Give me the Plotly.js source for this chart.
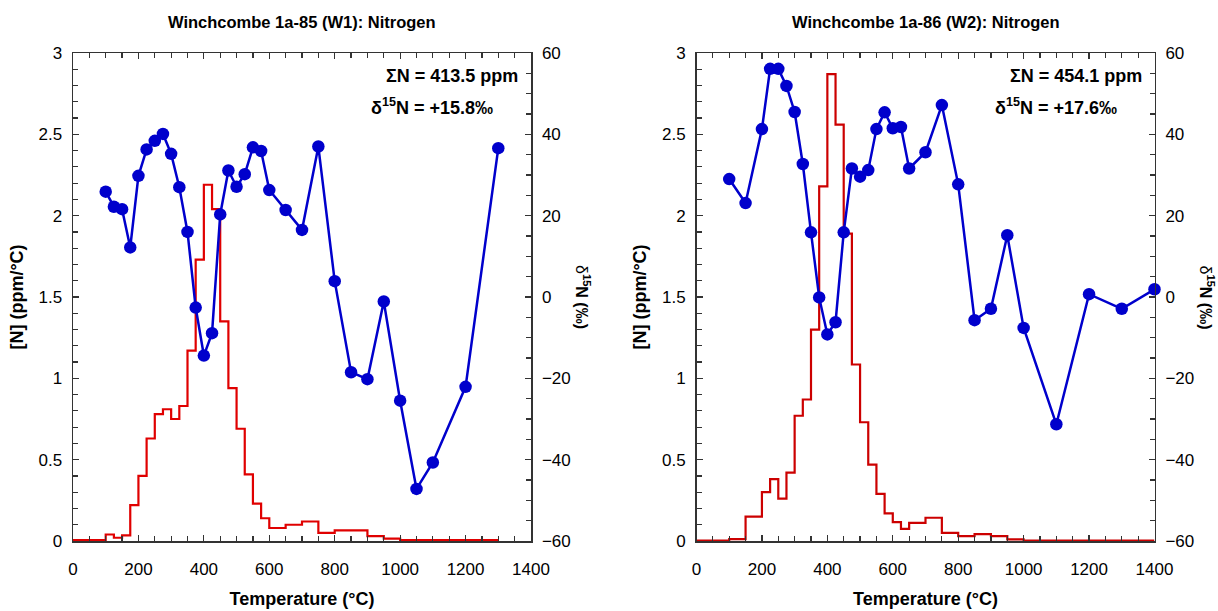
<!DOCTYPE html>
<html>
<head>
<meta charset="utf-8">
<script src="https://cdn.plot.ly/plotly-3.0.1.min.js"></script>
<style>html,body{margin:0;padding:0;background:#fff;}#chart{width:1218px;height:611px;}</style>
</head>
<body>
<div id="chart"></div>
<script>
// ---- W1 (Winchcombe 1a-85) ----
const edgesW1 = [0,100,125,150,175,200,225,250,275,300,325,350,375,400,425,450,475,500,525,550,575,600,650,700,750,800,900,950,1000,1300];
const concW1  = [0.005,0.04,0.02,0.035,0.22,0.40,0.63,0.78,0.81,0.75,0.83,1.17,1.73,2.19,2.04,1.35,0.94,0.69,0.41,0.23,0.14,0.08,0.10,0.12,0.05,0.065,0.03,0.015,0.006];
const tempW1  = [100,125,150,175,200,225,250,275,300,325,350,375,400,425,450,475,500,525,550,575,600,650,700,750,800,850,900,950,1000,1050,1100,1200,1300];
const d15W1   = [25.9,22.2,21.6,12.2,29.8,36.3,38.4,40.1,35.2,27.0,16.0,-2.6,-14.4,-8.9,20.3,31.1,27.1,30.2,36.8,35.9,26.3,21.4,16.5,37.0,3.9,-18.5,-20.2,-1.1,-25.5,-47.2,-40.7,-22.1,36.6];

// ---- W2 (Winchcombe 1a-86) ----
const edgesW2 = [0,100,150,200,225,250,275,300,325,350,375,400,425,450,475,500,525,550,575,600,625,650,700,750,800,850,900,950,1000,1400];
const concW2  = [0.003,0.012,0.15,0.30,0.38,0.26,0.42,0.77,0.87,1.30,2.18,2.87,2.56,1.89,1.085,0.73,0.47,0.29,0.17,0.116,0.075,0.112,0.143,0.05,0.03,0.042,0.03,0.01,0.003];
const tempW2  = [100,150,200,225,250,275,300,325,350,375,400,425,450,475,500,525,550,575,600,625,650,700,750,800,850,900,950,1000,1100,1200,1300,1400];
const d15W2   = [29.0,23.1,41.3,56.1,56.1,51.9,45.5,32.7,15.9,-0.1,-9.2,-6.2,15.9,31.6,29.6,31.2,41.3,45.4,41.5,41.8,31.6,35.6,47.2,27.7,-5.7,-2.9,15.2,-7.6,-31.3,0.7,-2.9,1.9];

const titles = ["Winchcombe 1a-85 (W1): Nitrogen", "Winchcombe 1a-86 (W2): Nitrogen"];
const sumN = ["ΣN = 413.5 ppm", "ΣN = 454.1 ppm"];
const deltaN = ["δ<sup>15</sup>N = +15.8‰", "δ<sup>15</sup>N = +17.6‰"];

const FONT = "Liberation Sans, Arial, sans-serif";
const BLUE = "#0000cc";

function stepTrace(edges, vals, xa, ya, color) {
  return {x: edges, y: vals.concat([vals[vals.length-1]]), xaxis: xa, yaxis: ya,
    type: 'scatter', mode: 'lines', line: {shape: 'hv', color: color, width: 2.2}, hoverinfo: 'skip'};
}
function dotTrace(xs, ys, xa, ya) {
  return {x: xs, y: ys, xaxis: xa, yaxis: ya, type: 'scatter', mode: 'lines+markers', cliponaxis: false,
    line: {color: BLUE, width: 2.5}, marker: {color: BLUE, size: 12.5}};
}

const data = [
  stepTrace(edgesW1, concW1, 'x', 'y', '#e00000'),
  dotTrace(tempW1, d15W1, 'x', 'y2'),
  stepTrace(edgesW2, concW2, 'x2', 'y3', '#cc0000'),
  dotTrace(tempW2, d15W2, 'x2', 'y4')
];

const tickf = {family: FONT, size: 17, color: '#000'};
const titlef = {family: FONT, size: 18, color: '#000', weight: 'bold'};
const common = {showgrid: false, zeroline: false, showline: true, linecolor: '#333', linewidth: 1.5,
  ticks: 'inside', ticklen: 6, tickcolor: '#333', tickwidth: 1.2, tickfont: tickf};

function xax(domain, anchor) {
  return Object.assign({}, common, {domain: domain, anchor: anchor, range: [0, 1400], dtick: 200, tick0: 0,
    mirror: 'ticks', minor: {dtick: 50, ticklen: 5, ticks: 'inside', tickcolor: '#333'}, ticklabelstandoff: 12,
    title: {text: 'Temperature (°C)', font: titlef, standoff: 14}});
}
function yl(anchor) {
  return Object.assign({}, common, {anchor: anchor, range: [0, 3], dtick: 0.5, tick0: 0,
    minor: {dtick: 0.1, ticklen: 5, ticks: 'inside', tickcolor: '#333'}, ticklabelstandoff: 6,
    title: {text: '[N] (ppm/°C)', font: titlef, standoff: 10}});
}
function yr(anchor, over) {
  return Object.assign({}, common, {anchor: anchor, overlaying: over, side: 'right', range: [-60, 60], dtick: 20, tick0: 0,
    minor: {dtick: 5, ticklen: 5, ticks: 'inside', tickcolor: '#333'}, ticklabelstandoff: 6});
}

const d1 = [73/1218, 531/1218];
const d2 = [696.5/1218, 1154.5/1218];

const annotations = [];
[d1, d2].forEach((d, i) => {
  const cx = (d[0] + d[1]) / 2;
  annotations.push({xref: 'paper', yref: 'paper', x: cx, y: 1 + (53-22)/488, text: '<b>' + titles[i] + '</b>',
    showarrow: false, xanchor: 'center', yanchor: 'middle', font: {family: FONT, size: 16.5, color: '#000'}});
  annotations.push({xref: 'paper', yref: 'paper', x: d[1] - 11/1218, y: 1 - (76-53)/488, text: '<b>' + sumN[i] + '</b>',
    showarrow: false, xanchor: 'right', yanchor: 'middle', font: {family: FONT, size: 18, color: '#000'}});
  annotations.push({xref: 'paper', yref: 'paper', x: d[1] - 36/1218, y: 1 - (107-53)/488, text: '<b>' + deltaN[i] + '</b>',
    showarrow: false, xanchor: 'right', yanchor: 'middle', font: {family: FONT, size: 18, color: '#000'}});
  annotations.push({xref: 'paper', yref: 'paper', x: d[1] + 52/1218, y: 0.5, text: 'δ<b><sup>15</sup>N (‰)</b>', textangle: 90,
    showarrow: false, xanchor: 'center', yanchor: 'middle', font: {family: FONT, size: 16, color: '#000'}});
});

const layout = {
  width: 1218, height: 611,
  margin: {l: 0, r: 0, t: 53, b: 70},
  paper_bgcolor: '#fff', plot_bgcolor: '#fff',
  showlegend: false,
  font: {family: FONT, color: '#000'},
  xaxis: xax(d1, 'y'),
  yaxis: yl('x'),
  yaxis2: yr('x', 'y'),
  xaxis2: xax(d2, 'y3'),
  yaxis3: yl('x2'),
  yaxis4: yr('x2', 'y3'),
  annotations: annotations
};

Plotly.newPlot('chart', data, layout, {displayModeBar: false, staticPlot: true});
</script>
</body>
</html>
